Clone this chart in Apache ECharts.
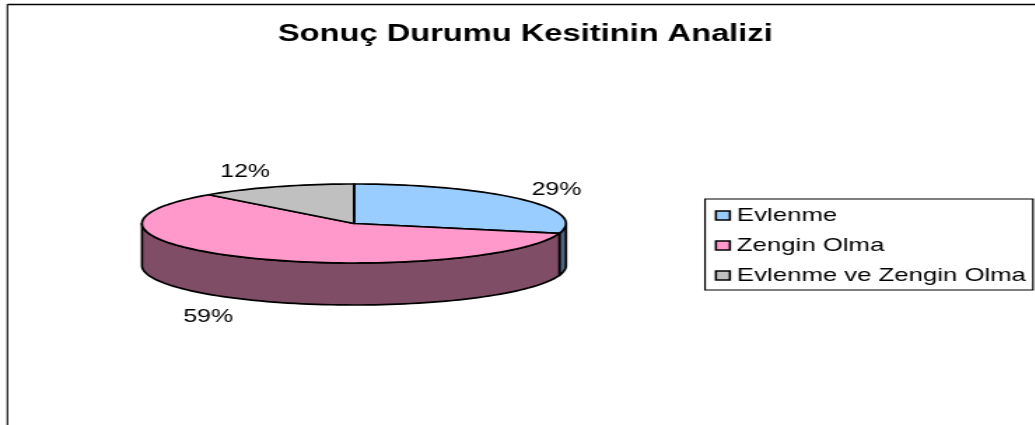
<!DOCTYPE html>
<html>
<head>
<meta charset="utf-8">
<script src="https://cdn.jsdelivr.net/npm/echarts@6/dist/echarts.min.js"></script>
<style>
html,body{margin:0;padding:0;background:#fff;overflow:hidden;width:1035px;height:425px}
#chart{width:740px;height:425px;transform:scaleX(1.4);transform-origin:0 0}
</style>
</head>
<body>
<div id="chart"></div>
<script>
var titleText = 'Sonuç Durumu Kesitinin Analizi';
var categories = ['Evlenme', 'Zengin Olma', 'Evlenme ve Zengin Olma'];
var values = [29, 59, 12];
var topColors = ['#99CCFF', '#FF99CC', '#C0C0C0'];
var wallColors = ['#4D6680', '#804D66', '#606060'];
var labelNudge = [[25, -9], [-27, 18], [-22, -15]];

var S = 1.4;
function X(px) { return px / S; }
var cx = X(354), cy = 223.5, rx = X(212), ry = 39.5, depth = 42;
var total = values.reduce(function (a, b) { return a + b; }, 0);

function pt(deg, dy) {
  var t = deg * Math.PI / 180;
  return [cx + rx * Math.sin(t), cy - ry * Math.cos(t) + (dy || 0)];
}
function arc(a, b, dy) {
  var pts = [], n = Math.max(2, Math.ceil(Math.abs(b - a) / 2));
  for (var i = 0; i <= n; i++) pts.push(pt(a + (b - a) * i / n, dy));
  return pts;
}
function makeRender(idx) {
  return function (params, api) {
    var start = 0;
    for (var i = 0; i < idx; i++) start += values[i] / total * 360;
    var v = api.value(0);
    var end = start + v / total * 360;
    var children = [];
    var stroke = { stroke: '#000', lineWidth: 1.7, lineJoin: 'round' };
    var wa = Math.max(start, 90), wb = Math.min(end, 270);
    if (wb > wa) {
      children.push({
        type: 'polygon', z2: 1,
        shape: { points: arc(wa, wb, 0).concat(arc(wb, wa, depth)) },
        style: Object.assign({ fill: wallColors[idx] }, stroke)
      });
    }
    children.push({
      type: 'polygon', z2: 5,
      shape: { points: [[cx, cy]].concat(arc(start, end, 0)) },
      style: Object.assign({ fill: topColors[idx] }, stroke)
    });
    var mid = pt((start + end) / 2, 0);
    var nudge = labelNudge[idx];
    var front = (start + end) / 2 > 90 && (start + end) / 2 < 270;
    children.push({
      type: 'text', z2: 10,
      style: {
        x: mid[0] + nudge[0], y: mid[1] + nudge[1] + (front ? depth : 0),
        text: Math.round(v / total * 100) + '%',
        fontFamily: 'Liberation Sans', fontSize: 17.8, fill: '#000',
        align: 'center', verticalAlign: 'middle'
      }
    });
    return { type: 'group', children: children };
  };
}

var chart = echarts.init(document.getElementById('chart'), null, { renderer: 'canvas' });
chart.setOption({
  animation: false,
  backgroundColor: '#fff',
  title: {
    text: titleText, left: X(278), top: 23.5,
    padding: 0,
    textStyle: { fontFamily: 'Liberation Sans', fontSize: 23.3, fontWeight: 'bold', color: '#000' }
  },
  legend: {
    data: categories, orient: 'vertical', left: X(705), top: 199,
    padding: [7.5, 5, 5.5, 7], itemGap: 12, itemWidth: 10, itemHeight: 9,
    borderColor: '#000', borderWidth: 1.2, backgroundColor: '#fff',
    selectedMode: false, icon: 'rect',
    itemStyle: { borderColor: '#000', borderWidth: 1.6 },
    textStyle: { fontFamily: 'Liberation Sans', fontSize: 18.4, color: '#000', padding: [0, 0, 0, 0], lineHeight: 18 }
  },
  graphic: [
    { type: 'line', shape: { x1: X(7.5), y1: 4.5, x2: 740, y2: 4.5 }, style: { stroke: '#000', lineWidth: 1.5 } },
    { type: 'line', shape: { x1: X(7.5), y1: 4, x2: X(7.5), y2: 425 }, style: { stroke: '#222', lineWidth: 1.3 } }
  ],
  series: categories.map(function (name, i) {
    return {
      type: 'custom', name: name, coordinateSystem: 'none',
      itemStyle: { color: topColors[i] },
      data: [[values[i]]],
      renderItem: makeRender(i)
    };
  })
});
</script>
</body>
</html>
